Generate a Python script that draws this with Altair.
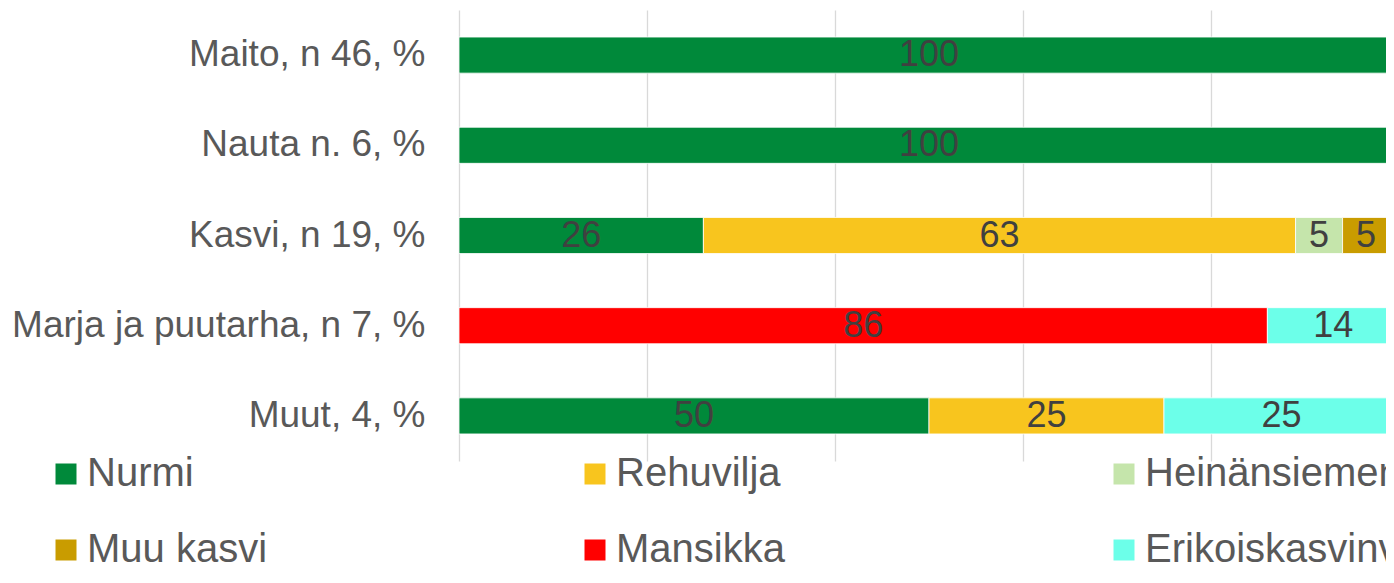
import altair as alt
import pandas as pd

FONT = "Liberation Sans"

categories = ["Maito, n 46, %", "Nauta n. 6, %", "Kasvi, n 19, %",
              "Marja ja puutarha, n 7, %", "Muut, 4, %"]
crops = ["Nurmi", "Rehuvilja", "Heinänsiemen", "Muu kasvi", "Mansikka",
         "Erikoiskasvinviljely"]
colors = ["#00893A", "#F8C51E", "#C5E5AB", "#C99C00", "#FF0000", "#6CFFE9"]

nurmi = [100, 100, 26, None, 50]
rehuvilja = [None, None, 63, None, 25]
heinansiemen = [None, None, 5, None, None]
muu_kasvi = [None, None, 5, None, None]
mansikka = [None, None, None, 86, None]
erikoiskasvi = [None, None, None, 14, 25]

# visible part of the 0-100 axis (the original is cut at the right edge)
x_visible_max = 98.62

series = [nurmi, rehuvilja, heinansiemen, muu_kasvi, mansikka, erikoiskasvi]
rows = []
for k, (crop, vals) in enumerate(zip(crops, series)):
    for cat, v in zip(categories, vals):
        if v is not None:
            rows.append({"category": cat, "crop": crop, "value": v, "order": k})
df = pd.DataFrame(rows)

base = alt.Chart(df).transform_stack(
    stack="value", groupby=["category"], as_=["x0", "x1"],
    sort=[alt.SortField("order", order="ascending")]
).transform_calculate(mid="(datum.x0 + datum.x1) / 2")

y_enc = alt.Y(
    "category:N", sort=categories,
    scale=alt.Scale(paddingInner=0.6, paddingOuter=0.3),
    axis=alt.Axis(title=None, ticks=False, domain=False, grid=False,
                  labelFontSize=37, labelColor="#595959", labelFont=FONT,
                  labelPadding=34, labelLimit=800),
)
x_enc = alt.X(
    "x0:Q", scale=alt.Scale(domain=[0, x_visible_max], nice=False, zero=True),
    axis=alt.Axis(title=None, labels=False, ticks=False, domain=False,
                  values=[0, 20, 40, 60, 80], gridColor="#D9D9D9",
                  gridWidth=1.3),
)

bars = base.mark_bar(stroke="white", strokeWidth=0.8, clip=True).encode(
    y=y_enc,
    x=x_enc,
    x2="x1:Q",
    color=alt.Color(
        "crop:N",
        scale=alt.Scale(domain=crops, range=colors),
        legend=alt.Legend(
            title=None, orient="none", legendX=-413, legendY=444,
            direction="horizontal",
            columns=3, gridAlign="all", columnPadding=156, rowPadding=36,
            symbolType="square", symbolSize=441, symbolStrokeWidth=0,
            symbolOpacity=1, labelFontSize=40, labelFont=FONT,
            labelColor="#595959", labelOffset=1, padding=0, labelLimit=1000,
        ),
    ),
)

labels = base.mark_text(fontSize=36, color="#404040", font=FONT,
                        baseline="middle", clip=True).encode(
    y=alt.Y("category:N", sort=categories),
    x=alt.X("mid:Q"),
    text=alt.Text("value:Q"),
)

chart = alt.layer(bars, labels).properties(
    width=927, height=451,
    autosize="none",
    padding={"left": 451, "top": 2, "right": 0, "bottom": 108},
).configure_view(stroke=None)

chart.save("out.html", embed_options={"renderer": "svg", "actions": False})
